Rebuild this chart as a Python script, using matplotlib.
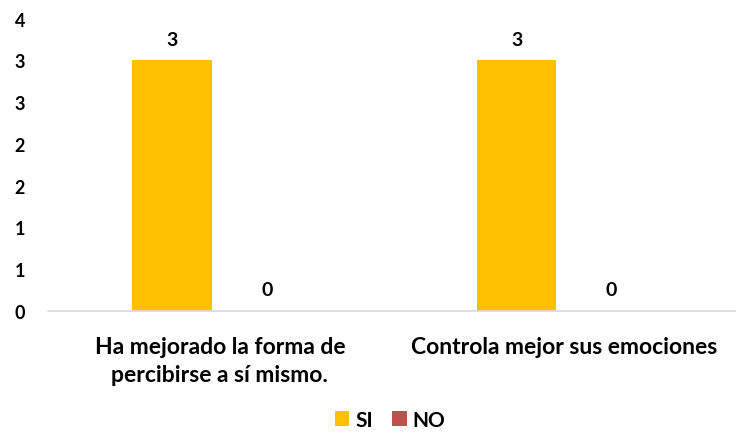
import matplotlib
matplotlib.use("Agg")
import matplotlib.pyplot as plt
from matplotlib.ticker import FuncFormatter
import numpy as np

categories = ["Ha mejorado la forma de\npercibirse a sí mismo.", "Controla mejor sus emociones"]
si_values = [3, 3]
no_values = [0, 0]
series_names = ["SI", "NO"]

plt.rcParams['font.family'] = ['Lato', 'DejaVu Sans']
plt.rcParams['font.weight'] = 'bold'

fig = plt.figure(figsize=(7.36, 4.35), dpi=100)
ax = fig.add_axes([0.065, 0.283, 0.935, 0.672])

x = np.arange(len(categories))
w = 0.232
off = 0.138
b1 = ax.bar(x - off, si_values, w, color="#FFC000", label=series_names[0])
b2 = ax.bar(x + off, no_values, w, color="#C0504D", label=series_names[1])

for bars, vals in ((b1, si_values), (b2, no_values)):
    for rect, v in zip(bars, vals):
        ax.annotate(f"{v:.0f}", (rect.get_x() + rect.get_width() / 2, v),
                    xytext=(0, 9), textcoords="offset points",
                    ha="center", va="bottom", fontsize=14, fontweight="bold", color="#000000")

ax.set_xlim(-0.5, 1.5)
ax.set_ylim(0, 3.5)
ax.set_yticks(np.arange(0, 3.51, 0.5))
ax.yaxis.set_major_formatter(FuncFormatter(lambda v, p: f"{int(np.floor(v + 0.5))}"))
ax.set_xticks(x)
ax.set_xticklabels(categories, fontsize=16.5, fontweight="bold", linespacing=1.4)
for s in ("top", "right", "left"):
    ax.spines[s].set_visible(False)
ax.spines["bottom"].set_color("#D9D9D9")
ax.spines["bottom"].set_linewidth(1.2)
ax.tick_params(axis="both", length=0)
ax.tick_params(axis="y", labelsize=13, pad=24)
ax.tick_params(axis="x", pad=18)
for lbl in ax.get_yticklabels():
    lbl.set_horizontalalignment("left")

leg = fig.legend(handles=[b1, b2], labels=series_names, loc="center", bbox_to_anchor=(0.53, 0.033),
                 ncol=2, frameon=False, fontsize=15, handlelength=0.7, handleheight=0.7,
                 handletextpad=0.3, columnspacing=0.9, borderpad=0.1)
for t in leg.get_texts():
    t.set_fontweight("bold")

fig.savefig("out.png", dpi=100)
